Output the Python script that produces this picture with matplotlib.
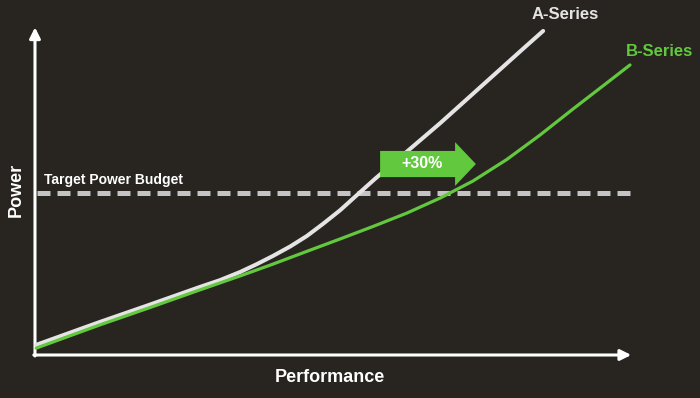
import matplotlib
matplotlib.use("Agg")
import matplotlib.pyplot as plt
from matplotlib.patches import FancyArrow

plt.rcParams['font.family'] = ['Liberation Sans', 'DejaVu Sans']

# Performance (x) vs Power (y), both on a 0-100 relative scale
a_perf = [0.2, 10.9, 19.3, 27.7, 31.1, 34.5, 37.3, 40.0, 42.9, 45.7, 48.4, 51.3,
          54.1, 57.1, 68.1, 82.0, 85.4]
a_power = [3.1, 10.1, 15.4, 20.8, 22.9, 25.4, 27.8, 30.3, 33.2, 36.4, 40.1, 44.3,
           48.9, 53.8, 70.9, 93.6, 99.1]

b_perf = [0.2, 10.9, 19.3, 27.7, 34.5, 40.0, 45.7, 51.3, 56.8, 62.5, 68.1, 73.6,
          79.3, 84.9, 90.4, 96.1, 100.0]
b_power = [2.1, 9.2, 14.5, 19.9, 24.2, 27.8, 31.7, 35.5, 39.3, 43.4, 48.0, 53.2,
           59.8, 67.3, 75.2, 83.2, 88.7]

target_power = 49.5
gain_label = "+30%"

bg = '#282420'
green = '#62c83e'
light = '#e4e4e4'

fig = plt.figure(figsize=(7, 3.98), dpi=100, facecolor=bg)
ax = fig.add_axes([0, 0, 1, 1])
ax.set_facecolor(bg)
ax.set_xlim(-5.88, 111.76)
ax.set_ylim(-13.15, 108.56)
ax.axis('off')

# axes with arrow heads
ax.annotate('', xy=(100.2, 0), xytext=(-0.2, 0),
            arrowprops=dict(arrowstyle='-|>', color='white', lw=2.2, mutation_scale=16,
                            shrinkA=0, shrinkB=0))
ax.annotate('', xy=(0, 100.2), xytext=(0, -0.3),
            arrowprops=dict(arrowstyle='-|>', color='white', lw=2.2, mutation_scale=16,
                            shrinkA=0, shrinkB=0))

# target power budget
ax.plot([0.3, 100.3], [target_power, target_power], color='#c4c4c4', lw=3.6,
        dashes=(2.6, 1.4), solid_capstyle='butt', dash_capstyle='butt', zorder=2)
ax.text(1.5, 53.5, 'Target Power Budget', color='white', fontsize=10,
        fontweight='bold', ha='left', va='center')

# curves
ax.plot(a_perf, a_power, color=light, lw=2.9, solid_capstyle='round',
        solid_joinstyle='round', zorder=3)
ax.plot(b_perf, b_power, color=green, lw=2.3, solid_capstyle='round',
        solid_joinstyle='round', zorder=4)

ax.text(89.1, 104.0, 'A-Series', color=light, fontsize=12, fontweight='bold',
        ha='center', va='center')
ax.text(105.0, 92.7, 'B-Series', color=green, fontsize=12, fontweight='bold',
        ha='center', va='center')

# +30% arrow
arr = FancyArrow(58.0, 58.4, 16.1, 0, width=8.0, head_width=13.4, head_length=3.5,
                 length_includes_head=True, color=green, lw=0, zorder=5)
ax.add_patch(arr)
ax.text(65.0, 58.7, gain_label, color='white', fontsize=11.5, fontweight='bold',
        ha='center', va='center', zorder=6)

# axis titles
ax.text(49.6, -7.0, 'Performance', color='white', fontsize=13, fontweight='bold',
        ha='center', va='center')
ax.text(-3.2, 50.5, 'Power', color='white', fontsize=13, fontweight='bold',
        ha='center', va='center', rotation=90)

fig.savefig('out.png', dpi=100, facecolor=bg)
